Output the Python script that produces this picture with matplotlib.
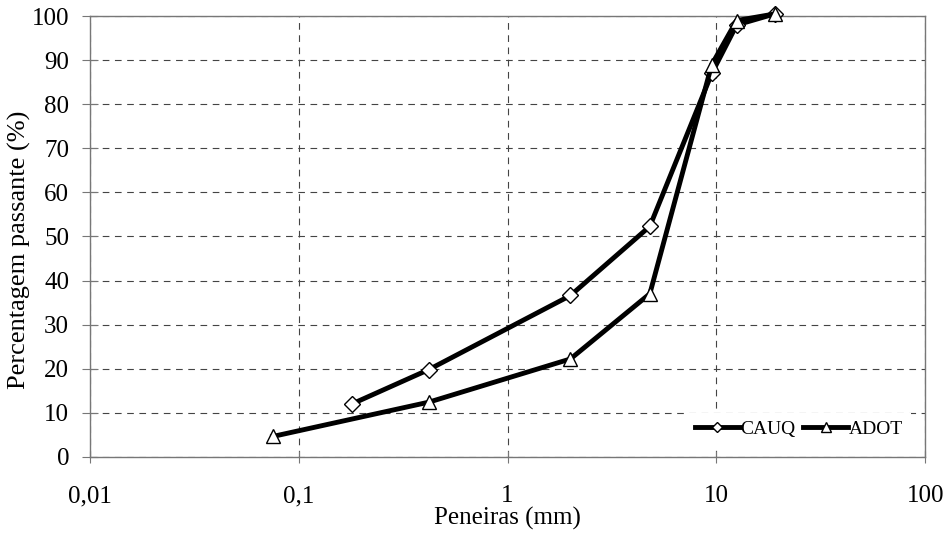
import matplotlib
matplotlib.use('Agg')
import matplotlib.pyplot as plt
from matplotlib.ticker import FixedLocator, NullLocator

# --- dados ---
peneiras_cauq = [0.18, 0.42, 2.0, 4.8, 9.5, 12.5, 19.0]
passante_cauq = [12, 19.8, 36.6, 52.3, 87, 98, 100.5]

peneiras_adot = [0.075, 0.42, 2.0, 4.8, 9.5, 12.5, 19.0]
passante_adot = [4.6, 12.4, 22.2, 37, 89, 99, 100.5]

x_ticks = [0.01, 0.1, 1, 10, 100]
x_labels = ['0,01', '0,1', '1', '10', '100']
y_ticks = list(range(0, 101, 10))

plt.rcParams['font.family'] = ['Liberation Serif', 'DejaVu Serif']

fig = plt.figure(figsize=(9.47, 5.38), dpi=100)
ax = fig.add_axes([0.095, 0.151, 0.882, 0.819])

ax.plot(peneiras_cauq, passante_cauq, '-', color='black', lw=3.5,
        marker='D', ms=8, mfc='white', mec='black', mew=1.0, label='CAUQ',
        clip_on=False, zorder=3)
ax.plot(peneiras_adot, passante_adot, '-', color='black', lw=3.5,
        marker='^', ms=10, mfc='white', mec='black', mew=1.0, label='ADOT',
        clip_on=False, zorder=3)

ax.set_xscale('log')
ax.set_xlim(0.01, 100)
ax.set_ylim(0, 100)
ax.xaxis.set_major_locator(FixedLocator(x_ticks))
ax.xaxis.set_minor_locator(NullLocator())
ax.set_xticklabels(x_labels)
ax.set_yticks(y_ticks)

ax.grid(True, color='#444444', ls=(0, (6, 5)), lw=0.8)
for s in ax.spines.values():
    s.set_color('#777777')
    s.set_linewidth(1.0)

ax.tick_params(axis='y', labelsize=18, direction='inout', length=12,
               color='#777777', pad=9)
ax.tick_params(axis='x', labelsize=18, direction='inout', length=9,
               color='#777777', pad=16)

ax.set_xlabel('Peneiras (mm)', fontsize=18, labelpad=0)
ax.set_ylabel('Percentagem passante (%)', fontsize=19)
ax.yaxis.set_label_coords(-0.07, 0.47)

leg = ax.legend(loc='lower right', bbox_to_anchor=(0.983, 0.025), ncol=2,
                fontsize=14, frameon=True, fancybox=False, facecolor='white',
                framealpha=1.0, handlelength=2.3, handletextpad=0.05,
                columnspacing=0.4, borderpad=0.4, borderaxespad=0,
                markerscale=0.7)
leg.get_frame().set_linewidth(0)

fig.savefig('out.png', dpi=100)
